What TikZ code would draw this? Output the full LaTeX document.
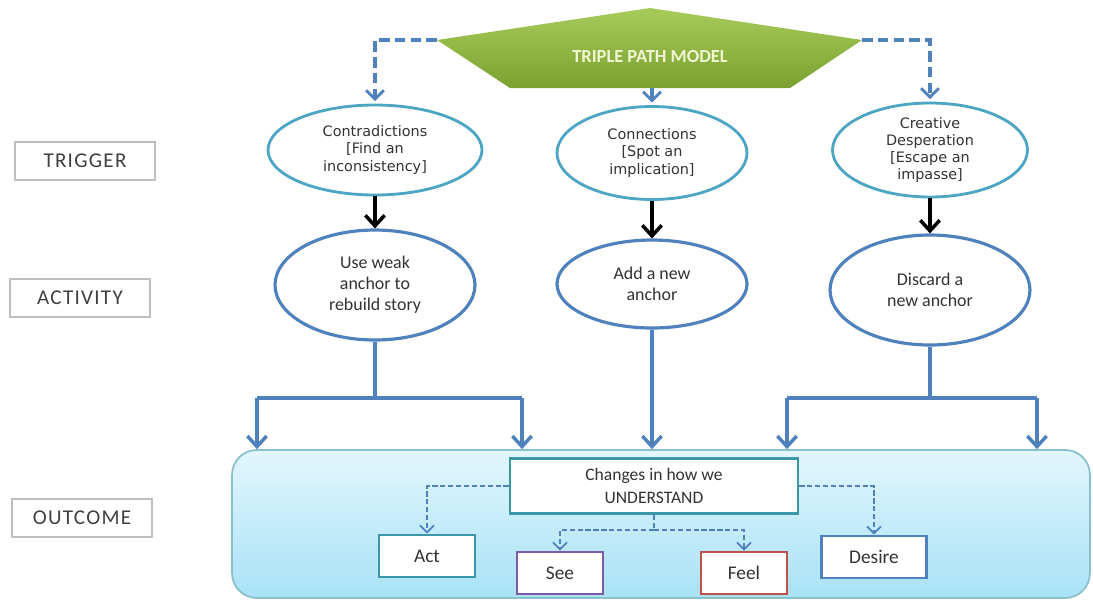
\documentclass[tikz,border=0pt]{standalone}
\usepackage{fontspec}
\setmainfont{Carlito}
\newfontfamily\wideface{DejaVu Sans}
\newfontfamily\tagface[LetterSpace=6]{Carlito}
\usepackage{xcolor}
\usetikzlibrary{shapes.geometric,arrows.meta,positioning}
\definecolor{flowblue}{RGB}{79,129,189}
\definecolor{trigteal}{RGB}{75,165,195}
\definecolor{actteal}{RGB}{60,150,170}
\definecolor{seepurple}{RGB}{125,90,165}
\definecolor{feelred}{RGB}{192,80,77}
\definecolor{labelgray}{RGB}{190,190,190}
\definecolor{hextop}{RGB}{168,204,92}
\definecolor{hexbot}{RGB}{122,160,48}
\definecolor{outtop}{RGB}{226,246,253}
\definecolor{outbot}{RGB}{168,226,246}

\tikzset{
  sidelabel/.style={draw=labelgray, line width=0.8pt, minimum width=2.8cm, minimum height=0.76cm,
    font=\tagface\fontsize{12}{13}\selectfont, text=black!75},
  trigger/.style={ellipse, draw=trigteal, line width=1.6pt, fill=white, align=center,
    font=\wideface\fontsize{8.2}{9.8}\selectfont, text=black!80, inner sep=0pt},
  activity/.style={ellipse, draw=flowblue, line width=1.8pt, fill=white, align=center,
    font=\fontsize{10.2}{12}\selectfont, text=black!80, inner sep=0pt},
  outcomebox/.style={draw, line width=1.5pt, fill=white, font=\fontsize{11}{12}\selectfont,
    text=black!80, minimum height=0.84cm},
  flowline/.style={draw=flowblue, line width=2.2pt},
  flowarrow/.style={flowline, -{Straight Barb[length=6pt,width=11pt,line width=2pt]}},
  downarrow/.style={draw=black, line width=2pt, -{Straight Barb[length=6pt,width=11pt,line width=2pt]}},
  topdash/.style={draw=flowblue, line width=2pt, dash pattern=on 6pt off 3pt,
    -{Straight Barb[length=5pt,width=10pt,line width=1.6pt,sep]}},
  thindash/.style={draw=flowblue, line width=1pt, dash pattern=on 3pt off 1.5pt,
    -{Straight Barb[length=4pt,width=8pt,line width=1pt]}}
}

\begin{document}
\begin{tikzpicture}[x=0.02cm, y=-0.02cm]
\useasboundingbox (0,0) rectangle (1093,600);

% header shape
\shade[top color=hextop, bottom color=hexbot] (437,40) -- (650,8) -- (862,40) -- (790,88) -- (510,88) -- cycle;
\node (model) at (650,57) {\color[RGB]{240,246,210}\bfseries\fontsize{10.5}{12}\selectfont TRIPLE PATH MODEL};
\coordinate (hexW) at (437,40);
\coordinate (hexE) at (862,40);
\coordinate (hexS) at (652,88);

% row labels
\node[sidelabel] (trig) at (85,161) {TRIGGER};
\node[sidelabel] (actv) at (80,298) {ACTIVITY};
\node[sidelabel] (outc) at (82,518) {OUTCOME};

% triggers
\node[trigger, minimum width=4.28cm, minimum height=1.8cm] (contra) at (375,150) {Contradictions\\{[}Find an\\inconsistency{]}};
\node[trigger, minimum width=3.8cm, minimum height=1.86cm] (conn) at (652,153) {Connections\\{[}Spot an\\implication{]}};
\node[trigger, minimum width=3.9cm, minimum height=1.88cm] (desp) at (930,150) {Creative\\Desperation\\{[}Escape an\\impasse{]}};

% activities
\node[activity, minimum width=4cm, minimum height=2.2cm] (weak) at (375,285) {Use weak\\anchor to\\rebuild story};
\node[activity, minimum width=3.8cm, minimum height=1.76cm] (addanc) at (652,284) {Add a new\\anchor};
\node[activity, minimum width=4cm, minimum height=2.2cm] (discard) at (930,290) {Discard a\\new anchor};

% outcome panel
\node[draw=actteal!60, line width=1pt, rounded corners=14pt, top color=outtop, bottom color=outbot,
  minimum width=17.16cm, minimum height=2.96cm] (outbox) at (661,524) {};
\node[outcomebox, draw=actteal, align=center, minimum width=5.76cm, minimum height=1.1cm,
  font=\fontsize{10}{13}\selectfont] (under) at (654,486) {Changes in how we\\UNDERSTAND};
\node[outcomebox, draw=actteal, minimum width=1.92cm] (act) at (427,556) {Act};
\node[outcomebox, draw=seepurple, minimum width=1.72cm] (see) at (560,573) {See};
\node[outcomebox, draw=feelred, minimum width=1.72cm] (feel) at (744,573) {Feel};
\node[outcomebox, draw=flowblue, minimum width=2.1cm] (desire) at (874,557) {Desire};

% dashed top links
\draw[topdash] (hexW) -| (contra.north);
\draw[topdash] (hexS) -- (conn.north);
\draw[topdash] (hexE) -| (desp.north);

% trigger to activity
\draw[downarrow] (contra) -- (weak);
\draw[downarrow] (conn) -- (addanc);
\draw[downarrow] (desp) -- (discard);

% buses
\coordinate (busLW) at (257,398);
\coordinate (busLE) at (522,398);
\coordinate (busRW) at (787,398);
\coordinate (busRE) at (1037,398);
\draw[flowline] (weak.south) -- (weak.south |- busLW);
\draw[flowline] (discard.south) -- (discard.south |- busRW);
\draw[flowline] (busLW) -- (busLE);
\draw[flowline] (busRW) -- (busRE);
\foreach \b in {busLW, busLE, busRW, busRE}
  \draw[flowarrow] (\b) -- (\b |- outbox.north);
\draw[flowarrow] (addanc.south) -- (addanc.south |- outbox.north);

% understanding links
\coordinate (split) at (654,530);
\draw[thindash] (under.west) -| (act.north);
\draw[thindash] (under.east) -| (desire.north);
\draw[draw=flowblue, line width=1pt, dash pattern=on 3pt off 1.5pt] (under.south) -- (split);
\draw[thindash] (split) -| (see.north);
\draw[thindash] (split) -| (feel.north);
\end{tikzpicture}
\end{document}
